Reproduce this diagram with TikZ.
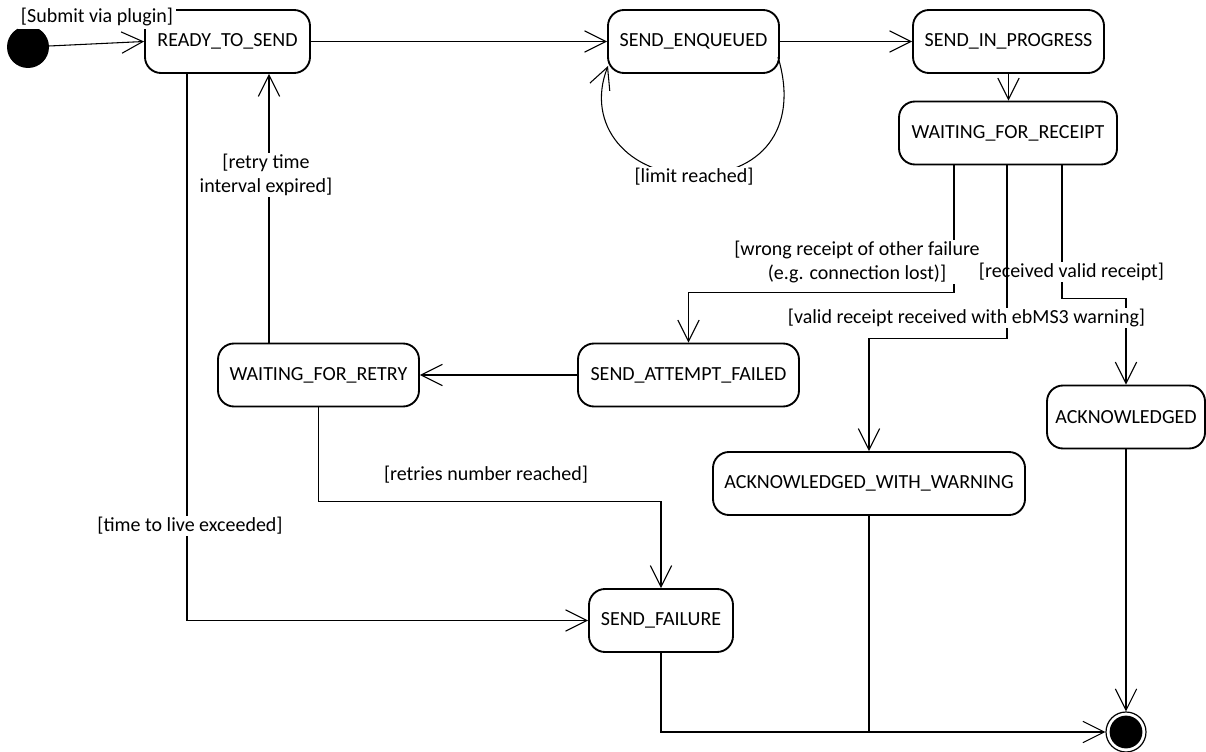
\documentclass[tikz,border=0pt]{standalone}
\usepackage{fontspec}
\setmainfont{Carlito}
\usetikzlibrary{arrows.meta,calc}
\begin{document}
\begin{tikzpicture}[x=0.75pt,y=-0.75pt,
  font=\fontsize{15pt}{17.6pt}\selectfont,
  state/.style={draw, line width=1.4pt, rounded corners=12pt, minimum height=47.25pt, inner sep=0pt},
  w/.style={minimum width=#1*0.75pt},
  conn/.style={line width=0.8pt, -{Straight Barb[length=16pt,width=16pt]}},
  plain/.style={line width=0.8pt},
  lbl/.style={fill=white, inner sep=1pt, align=center}]
\useasboundingbox (0,0) rectangle (1206,752);

% states
\node[state,w=165] (RTS) at (227.5,41.5) {READY\_TO\_SEND};
\node[state,w=171] (SE) at (693.5,41.5) {SEND\_ENQUEUED};
\node[state,w=191] (SIP) at (1008.5,41.5) {SEND\_IN\_PROGRESS};
\node[state,w=218] (WFRec) at (1008,133) {WAITING\_FOR\_RECEIPT};
\node[state,w=221] (SAF) at (688.5,375) {SEND\_ATTEMPT\_FAILED};
\node[state,w=201] (WFR) at (318.5,375) {WAITING\_FOR\_RETRY};
\node[state,w=312] (ACKWW) at (869,483.5) {ACKNOWLEDGED\_WITH\_WARNING};
\node[state,w=158] (ACK) at (1126,417) {ACKNOWLEDGED};
\node[state,w=144] (SF) at (661,620.5) {SEND\_FAILURE};
\node[circle, fill=black, minimum size=31.5pt, inner sep=0pt] (init) at (28,47) {};
\node[circle, draw, line width=0.9pt, minimum size=30pt, inner sep=0pt] (fin) at (1126,732) {};
\fill (fin.center) circle (12.3pt);

% top row
\draw[conn] (init) -- (RTS.west);
\draw[conn] (RTS) -- (SE);
\draw[conn] (SE) -- (SIP);
\draw[conn] (SIP.south) -- (SIP.south |- WFRec.north);

% self loop on SEND_ENQUEUED
\coordinate (loopA) at ($(SE.center)+(84.5,15.5)$);
\coordinate (loopB) at ($(SE.center)+(0.5,133.5)$);
\coordinate (loopC) at ($(SE.center)+(-85.5,24.5)$);
\draw[conn] (loopA) .. controls ($(loopA)+(22,73)$) and ($(loopB)+(66,0)$) .. (loopB)
  .. controls ($(loopB)+(-66,0)$) and ($(loopC)+(-23,59)$) .. (loopC);
\node[lbl] (lim) at (694,177) {[limit reached]};

% left part
\draw[conn] (SAF) -- (WFR);
\draw[conn] ($(WFR.north)+(-49.5,0)$) -- ($(RTS.south)+(41.5,0)$);
\draw[conn] ($(RTS.south)+(-40.5,0)$) |- (SF.west);
\draw[conn] (WFR.south) -- ++(0,94) -| (SF.north);
\node[lbl] (retry) at (266,175) {[retry time\\interval expired]};
\node[lbl] (ttl) at (190,526) {[time to live exceeded]};
\node[lbl] (rnr) at (486,475) {[retries number reached]};

% branches from WAITING_FOR_RECEIPT
\draw[conn] ($(WFRec.south)+(-54,0)$) -- ++(0,127) -| (SAF.north);
\draw[conn] ($(WFRec.south)+(54,0)$) -- ++(0,133) -| (ACK.north);
\node[lbl] (wrong) at (857,262) {[wrong receipt of other failure\\(e.g. connection lost)]};
\node[lbl] (valid) at (1071.5,272) {[received valid receipt]};
\draw[conn] ($(WFRec.south)+(-1,0)$) -- ++(0,173) -| (ACKWW.north);
\node[lbl] (warn) at (966.5,318) {[valid receipt received with ebMS3 warning]};

% to final state
\draw[conn] (ACK) -- (fin);
\draw[conn] (SF.south) |- (fin.west);
\draw[plain] (ACKWW.south) -- (ACKWW.south |- fin.west);

% initial label
\node[lbl, inner sep=2pt] (sub) at (97,17) {[Submit via plugin]};
\end{tikzpicture}
\end{document}
